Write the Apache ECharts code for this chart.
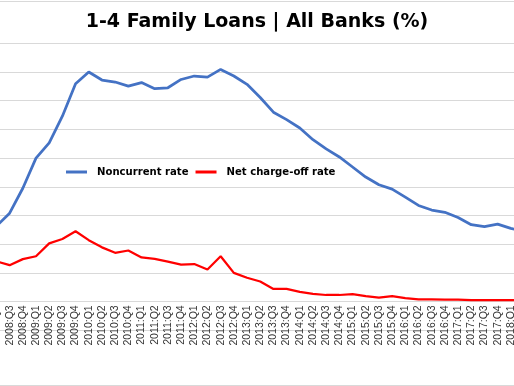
<!DOCTYPE html>
<html>
<head>
<meta charset="utf-8">
<script src="https://cdn.jsdelivr.net/npm/echarts@6/dist/echarts.min.js"></script>
<style>
html, body { margin: 0; padding: 0; background: #fff; overflow: hidden; }
#chart { width: 514px; height: 386px; }
</style>
</head>
<body>
<div id="chart"></div>
<script>
const categories = [
  '2008:Q2','2008:Q3','2008:Q4',
  '2009:Q1','2009:Q2','2009:Q3','2009:Q4',
  '2010:Q1','2010:Q2','2010:Q3','2010:Q4',
  '2011:Q1','2011:Q2','2011:Q3','2011:Q4',
  '2012:Q1','2012:Q2','2012:Q3','2012:Q4',
  '2013:Q1','2013:Q2','2013:Q3','2013:Q4',
  '2014:Q1','2014:Q2','2014:Q3','2014:Q4',
  '2015:Q1','2015:Q2','2015:Q3','2015:Q4',
  '2016:Q1','2016:Q2','2016:Q3','2016:Q4',
  '2017:Q1','2017:Q2','2017:Q3','2017:Q4',
  '2018:Q1','2018:Q2'
];

const noncurrentRate = [
  2.63, 3.08, 3.95,
  5.00, 5.53, 6.46, 7.59,
  8.00, 7.72, 7.65, 7.51,
  7.63, 7.42, 7.45, 7.74,
  7.86, 7.82, 8.09, 7.86,
  7.57, 7.11, 6.60, 6.34,
  6.05, 5.64, 5.32, 5.04,
  4.69, 4.34, 4.07, 3.92,
  3.64, 3.35, 3.19, 3.11,
  2.93, 2.68, 2.61, 2.70,
  2.55, 2.45
];

const netChargeOffRate = [
  1.40, 1.27, 1.48,
  1.58, 2.03, 2.18, 2.45,
  2.14, 1.89, 1.70, 1.78,
  1.54, 1.49, 1.39, 1.29,
  1.31, 1.12, 1.58, 1.00,
  0.83, 0.70, 0.44, 0.44,
  0.34, 0.27, 0.23, 0.23,
  0.26, 0.19, 0.14, 0.19,
  0.12, 0.08, 0.08, 0.07,
  0.07, 0.05, 0.05, 0.05,
  0.05, 0.04
];

const yTicks = { min: -1, max: 9, interval: 1 };

const chart = echarts.init(document.getElementById('chart'), null, { renderer: 'canvas' });
chart.setOption({
  animation: false,
  backgroundColor: '#ffffff',
  title: {
    text: '1-4 Family Loans | All Banks (%)',
    left: 'center',
    top: 8,
    textStyle: { fontFamily: 'DejaVu Sans', fontWeight: 'bold', fontSize: 19, color: '#000000' }
  },
  legend: {
    left: 61,
    top: 162,
    itemWidth: 21,
    itemHeight: 3,
    itemGap: 7,
    icon: 'rect',
    textStyle: { fontFamily: 'DejaVu Sans', fontWeight: 'bold', fontSize: 10.1, color: '#000000', padding: [0, 0, 0, 5] },
    data: ['Noncurrent rate', 'Net charge-off rate']
  },
  graphic: [
    { type: 'line', shape: { x1: 0, y1: 1.5, x2: 514, y2: 1.5 }, style: { stroke: '#d9d9d9', lineWidth: 1 } },
    { type: 'line', shape: { x1: 0, y1: 385.5, x2: 514, y2: 385.5 }, style: { stroke: '#d9d9d9', lineWidth: 1 } }
  ],
  grid: { left: -3.57, right: -10.0, top: 43.3, bottom: 55.7, containLabel: false, outerBoundsMode: 'none' },
  xAxis: {
    type: 'category',
    data: categories,
    boundaryGap: false,
    axisLine: { onZero: false, lineStyle: { color: '#d9d9d9', width: 1 } },
    axisTick: { show: false },
    axisLabel: {
      interval: 0,
      rotate: 90,
      margin: -25,
      fontFamily: 'Liberation Sans',
      fontSize: 10.5,
      color: '#333333'
    },
    splitLine: { show: false }
  },
  yAxis: {
    type: 'value',
    min: yTicks.min,
    max: yTicks.max,
    interval: yTicks.interval,
    axisLine: { show: false },
    axisTick: { show: false },
    axisLabel: { show: false },
    splitLine: { lineStyle: { color: '#d9d9d9', width: 1 } }
  },
  series: [
    {
      name: 'Noncurrent rate',
      type: 'line',
      data: noncurrentRate,
      showSymbol: false,
      symbol: 'none',
      lineStyle: { color: '#4472C4', width: 2.75 },
      itemStyle: { color: '#4472C4' }
    },
    {
      name: 'Net charge-off rate',
      type: 'line',
      data: netChargeOffRate,
      showSymbol: false,
      symbol: 'none',
      lineStyle: { color: '#FF0000', width: 2.25 },
      itemStyle: { color: '#FF0000' }
    }
  ]
});
</script>
</body>
</html>
